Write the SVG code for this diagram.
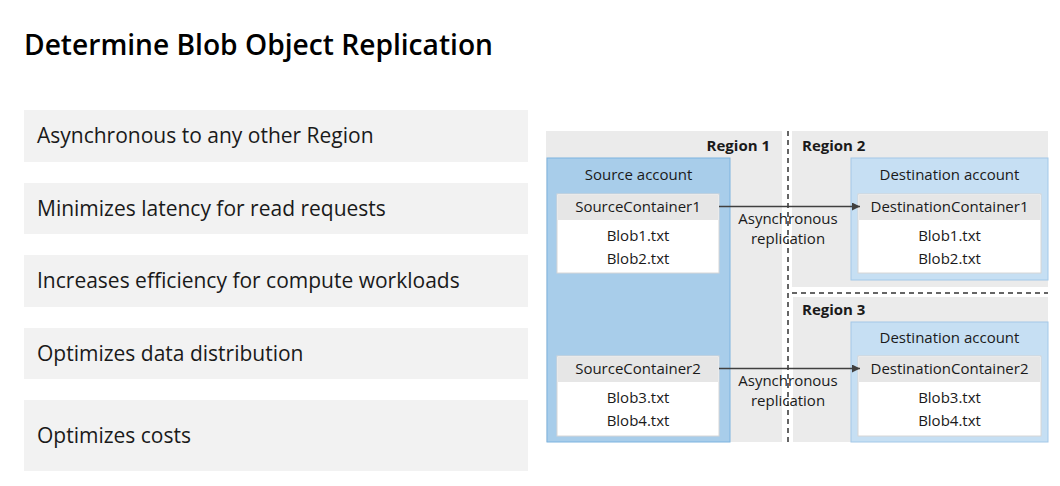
<svg xmlns="http://www.w3.org/2000/svg" width="1060" height="486" viewBox="0 0 1060 486">
<style>
text{font-family:"Open Sans","Noto Sans","Liberation Sans",sans-serif;fill:#1a1a1a}
.title{font-size:28px;font-weight:600;fill:#000}
.item rect{fill:#f2f2f2}
.item text{font-size:21px}
.region{fill:#ebebeb}
.rl{font-size:15px;font-weight:700}
.src{fill:#a8cdea;stroke:#7db3e0;stroke-width:1}
.dst{fill:#c6dff3;stroke:#a3c8e8;stroke-width:1}
.cbox{fill:#fff;stroke:#d6d6d6;stroke-width:1}
.chead{fill:#e6e6e6}
.t{font-size:15px;text-anchor:middle}
.div{stroke:#333;stroke-width:1.5;stroke-dasharray:5 4;fill:none}
.conn{stroke:#404040;stroke-width:1.3;fill:none}
</style>
<defs>
<marker id="ah" viewBox="0 0 10 10" refX="10" refY="5" markerWidth="8" markerHeight="8" markerUnits="userSpaceOnUse" orient="auto">
<path d="M0,0 L10,5 L0,10 z" fill="#404040"/>
</marker>
</defs>
<rect width="1060" height="486" fill="#fff"/>
<text class="title" x="24" y="55" textLength="469" lengthAdjust="spacingAndGlyphs">Determine Blob Object Replication</text>

<g id="item1" class="item"><rect x="24" y="110" width="504" height="52"/><text x="37" y="143">Asynchronous to any other Region</text></g>
<g id="item2" class="item"><rect x="24" y="183" width="504" height="51"/><text x="37" y="216">Minimizes latency for read requests</text></g>
<g id="item3" class="item"><rect x="24" y="255" width="504" height="52"/><text x="37" y="288">Increases efficiency for compute workloads</text></g>
<g id="item4" class="item"><rect x="24" y="328" width="504" height="51"/><text x="37" y="361">Optimizes data distribution</text></g>
<g id="item5" class="item"><rect x="24" y="400" width="504" height="71"/><text x="37" y="443">Optimizes costs</text></g>

<g id="region1"><rect class="region" x="546" y="131" width="236" height="311"/><text class="rl" x="770" y="151" text-anchor="end">Region 1</text></g>
<g id="region2"><rect class="region" x="792" y="131" width="256" height="156"/><text class="rl" x="802" y="151">Region 2</text></g>
<g id="region3"><rect class="region" x="793" y="297" width="255" height="145"/><text class="rl" x="802" y="315">Region 3</text></g>
<g id="dividers"><path class="div" d="M788,131 V442"/><path class="div" d="M792,293 H1048"/></g>

<g id="sourceAccount"><rect class="src" x="547" y="158" width="183" height="284"/><text class="t" x="638.5" y="180">Source account</text></g>
<g id="sourceContainer1"><rect class="cbox" x="557" y="194" width="162" height="79"/><rect class="chead" x="558" y="195" width="160" height="25"/><text class="t" x="638" y="212">SourceContainer1</text><text class="t" x="638" y="241">Blob1.txt</text><text class="t" x="638" y="264">Blob2.txt</text></g>
<g id="sourceContainer2"><rect class="cbox" x="557" y="356" width="162" height="80"/><rect class="chead" x="558" y="357" width="160" height="25"/><text class="t" x="638" y="374">SourceContainer2</text><text class="t" x="638" y="403">Blob3.txt</text><text class="t" x="638" y="426">Blob4.txt</text></g>

<g id="destAccount1"><rect class="dst" x="851" y="158" width="197" height="122"/><text class="t" x="949.5" y="180">Destination account</text></g>
<g id="destContainer1"><rect class="cbox" x="858" y="194" width="183" height="79"/><rect class="chead" x="859" y="195" width="181" height="25"/><text class="t" x="949.5" y="212">DestinationContainer1</text><text class="t" x="949.5" y="241">Blob1.txt</text><text class="t" x="949.5" y="264">Blob2.txt</text></g>
<g id="destAccount2"><rect class="dst" x="851" y="322" width="197" height="120"/><text class="t" x="949.5" y="343">Destination account</text></g>
<g id="destContainer2"><rect class="cbox" x="858" y="356" width="183" height="80"/><rect class="chead" x="859" y="357" width="181" height="25"/><text class="t" x="949.5" y="374">DestinationContainer2</text><text class="t" x="949.5" y="403">Blob3.txt</text><text class="t" x="949.5" y="426">Blob4.txt</text></g>

<g id="connectors">
<path class="conn" d="M719,206.5 H860" marker-end="url(#ah)"/>
<path class="conn" d="M719,368.5 H860" marker-end="url(#ah)"/>
<text class="t" x="788" y="224">Asynchronous</text><text class="t" x="788" y="244">replication</text>
<text class="t" x="788" y="386">Asynchronous</text><text class="t" x="788" y="406">replication</text>
</g>
</svg>
